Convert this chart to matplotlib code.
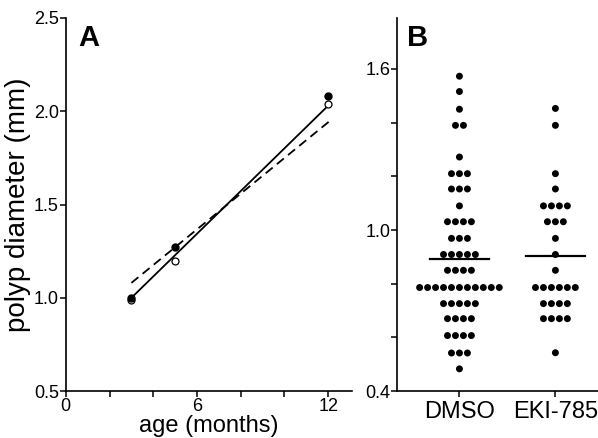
import numpy as np
import matplotlib.pyplot as plt

plt.rcParams['font.family'] = ['Liberation Sans', 'DejaVu Sans']

# panel A: mean polyp diameter by age
age = [3, 5, 12]
filled_diam = [1.00, 1.27, 2.08]
open_diam = [0.99, 1.20, 2.04]
solid_fit_x = [3, 12]
solid_fit_y = [1.00, 2.03]
dashed_fit_x = [3, 12.2]
dashed_fit_y = [1.08, 1.96]

# panel B: individual polyp diameters, (value, count) rows of the dot plot
groups = ['DMSO', 'EKI-785']
dmso_vals = [1.573, 1.516, 1.45, 1.39, 1.272, 1.21, 1.153, 1.09, 1.031, 0.969,
             0.909, 0.85, 0.786, 0.726, 0.67, 0.607, 0.542, 0.483]
dmso_counts = [1, 1, 1, 2, 1, 3, 3, 1, 4, 3, 5, 4, 11, 5, 4, 4, 3, 1]
eki_vals = [1.453, 1.39, 1.21, 1.153, 1.09, 1.031, 0.969, 0.909, 0.85, 0.786,
            0.726, 0.67, 0.543]
eki_counts = [1, 1, 1, 1, 4, 3, 1, 1, 1, 6, 4, 4, 1]
medians = [0.894, 0.903]

fig = plt.figure(figsize=(5.98, 4.38), dpi=100)

# ---- A ----
ax = fig.add_axes([0.110, 0.107, 0.479, 0.852])
ax.plot(solid_fit_x, solid_fit_y, color='black', lw=1.3)
ax.plot(dashed_fit_x, dashed_fit_y, color='black', lw=1.3, dashes=(5, 3))
ax.plot(age, open_diam, 'o', ls='none', ms=5, mfc='white', mec='black', mew=0.9)
ax.plot(age, filled_diam, 'o', ls='none', ms=5, color='black')
ax.set_xlim(0, 13.1)
ax.set_ylim(0.5, 2.5)
ax.set_xticks([0, 6, 12])
ax.set_xticks([2, 4, 8, 10], minor=True)
ax.set_yticks([0.5, 1.0, 1.5, 2.0, 2.5])
ax.set_yticklabels(['0.5', '1.0', '1.5', '2.0', '2.5'])
ax.tick_params(which='both', direction='out', length=4, width=1.1, labelsize=13, pad=1)
ax.spines[['top', 'right']].set_visible(False)
ax.spines[['left', 'bottom']].set_linewidth(1.2)
ax.set_xlabel('age (months)', fontsize=17, labelpad=0)
ax.set_ylabel('polyp diameter (mm)', fontsize=20, labelpad=2)
ax.text(0.045, 0.985, 'A', transform=ax.transAxes, fontsize=21, fontweight='bold',
        va='top', ha='left')

# ---- B ----
bx = fig.add_axes([0.664, 0.107, 0.345, 0.852])
step = 0.083
for gi, (vals, counts) in enumerate([(dmso_vals, dmso_counts), (eki_vals, eki_counts)]):
    xs, ys = [], []
    for v, n in zip(vals, counts):
        offs = (np.arange(n) - (n - 1) / 2) * step
        xs.extend(gi + offs)
        ys.extend([v] * n)
    bx.scatter(xs, ys, s=25, color='black', edgecolors='none', zorder=3)
    bx.plot([gi - 0.31, gi + 0.31], [medians[gi]] * 2, color='black', lw=1.6, zorder=4)
bx.set_xlim(-0.65, 1.5)
bx.set_ylim(0.4, 1.79)
bx.set_xticks([0, 1])
bx.set_xticklabels(groups, fontsize=17)
bx.set_yticks([0.4, 1.0, 1.6])
bx.set_yticklabels(['0.4', '1.0', '1.6'])
bx.set_yticks([0.6, 0.8, 1.2, 1.4], minor=True)
bx.tick_params(which='both', direction='out', length=4, width=1.1, pad=1)
bx.tick_params(axis='y', labelsize=13)
bx.tick_params(axis='x', pad=3)
bx.spines[['top', 'right']].set_visible(False)
bx.spines[['left', 'bottom']].set_linewidth(1.2)
bx.text(0.05, 0.985, 'B', transform=bx.transAxes, fontsize=21, fontweight='bold',
        va='top', ha='left')

fig.savefig('out.png', dpi=100)
